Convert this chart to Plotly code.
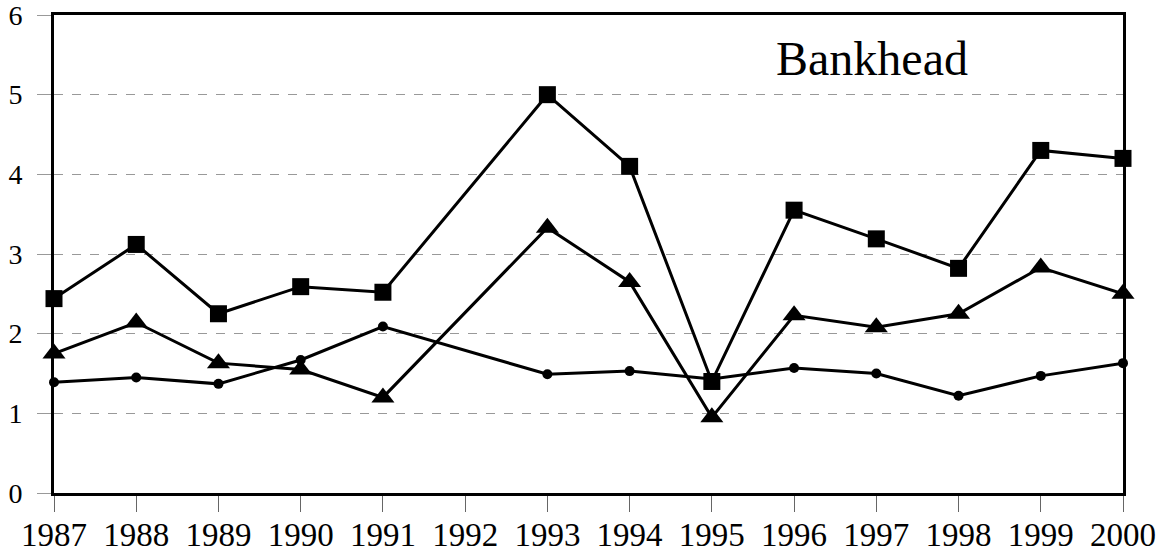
import plotly.graph_objects as go

years = [1987, 1988, 1989, 1990, 1991, 1992, 1993, 1994, 1995, 1996, 1997, 1998, 1999, 2000]
squares = [2.44, 3.12, 2.25, 2.59, 2.52, None, 5.00, 4.10, 1.40, 3.55, 3.19, 2.82, 4.30, 4.20]
triangles = [1.75, 2.14, 1.63, 1.55, 1.20, None, 3.33, 2.65, 0.95, 2.23, 2.08, 2.25, 2.83, 2.50]
circles = [1.39, 1.45, 1.37, 1.67, 2.09, None, 1.49, 1.53, 1.43, 1.57, 1.50, 1.22, 1.47, 1.63]
y_ticks = [0, 1, 2, 3, 4, 5, 6]
title_text = "Bankhead"

fig = go.Figure()
series = [
    (circles, "circle", 10),
    (triangles, "triangle-up", 20),
    (squares, "square", 17),
]
for vals, sym, sz in series:
    fig.add_trace(go.Scatter(
        x=years, y=vals, mode="lines+markers", connectgaps=True,
        line=dict(color="black", width=3),
        marker=dict(symbol=sym, size=sz, color="black"),
        cliponaxis=False, showlegend=False,
    ))

font_serif = "Liberation Serif, Times New Roman, serif"
fig.update_layout(
    width=1163, height=554,
    margin=dict(l=54, r=40, t=15, b=61),
    paper_bgcolor="white", plot_bgcolor="white",
    font=dict(family=font_serif, color="black"),
    xaxis=dict(
        range=[1987, 2000], tickmode="array", tickvals=years,
        ticktext=[str(y) for y in years],
        showgrid=False, zeroline=False, automargin=False,
        showline=True, linecolor="black", linewidth=3, mirror=True,
        ticks="outside", ticklen=16, tickcolor="#666", tickwidth=1,
        ticklabelstandoff=-6, ticklabeloverflow="allow",
        tickfont=dict(size=33, family=font_serif),
    ),
    yaxis=dict(
        range=[0, 6], tickmode="array", tickvals=y_ticks,
        showgrid=True, gridcolor="#999", griddash="dash", gridwidth=1,
        zeroline=False, automargin=False,
        showline=True, linecolor="black", linewidth=3, mirror=True,
        ticks="outside", ticklen=14, tickcolor="#999", tickwidth=1,
        ticklabelstandoff=9, ticklabeloverflow="allow",
        tickfont=dict(size=28, family=font_serif),
    ),
    annotations=[dict(
        text=title_text, x=0.765, y=0.908, xref="paper", yref="paper",
        showarrow=False, font=dict(size=48, family=font_serif, color="black"),
        xanchor="center", yanchor="middle",
    )],
)

fig.write_html(
    "out.html",
    config={"displayModeBar": False},
    post_script="document.body.style.margin='0';document.body.style.overflow='hidden';",
)
